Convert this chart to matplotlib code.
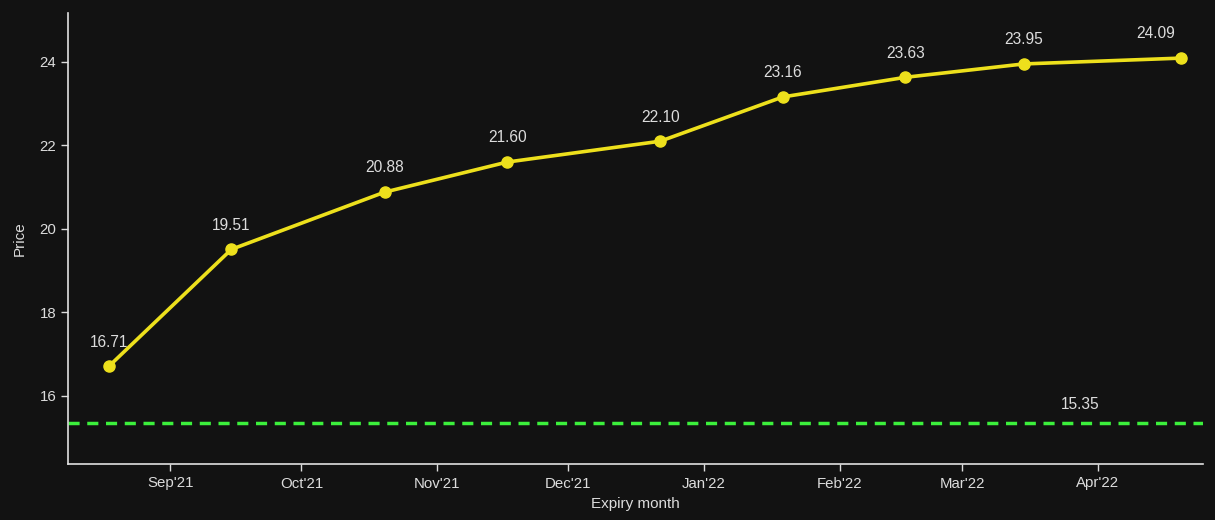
import matplotlib
matplotlib.use("Agg")
import matplotlib.pyplot as plt
import matplotlib.dates as mdates
import pandas as pd

expiry_dates = ["2021-08-18", "2021-09-15", "2021-10-20", "2021-11-17", "2021-12-22",
                "2022-01-19", "2022-02-16", "2022-03-15", "2022-04-20"]
prices = [16.71, 19.51, 20.88, 21.60, 22.10, 23.16, 23.63, 23.95, 24.09]
spot_price = 15.35
tick_months = ["2021-09-01", "2021-10-01", "2021-11-01", "2021-12-01",
               "2022-01-01", "2022-02-01", "2022-03-01", "2022-04-01"]
tick_labels = ["Sep'21", "Oct'21", "Nov'21", "Dec'21", "Jan'22", "Feb'22", "Mar'22", "Apr'22"]

plt.rcParams['font.family'] = ['Liberation Sans', 'DejaVu Sans']
bg = "#121212"
txt = "#dcdcdc"

x = pd.to_datetime(expiry_dates)
fig = plt.figure(figsize=(12.15, 5.2), dpi=100, facecolor=bg)
ax = fig.add_axes([68/1215, 1 - 464/520, (1203-68)/1215, (464-13)/520])
ax.set_facecolor(bg)

ax.plot(x, prices, color="#ede01c", lw=2.6, marker="o", ms=8, zorder=3)
n = len(prices)
for i, (xi, yi) in enumerate(zip(x, prices)):
    dx = -18 if i == n - 1 else 0
    ax.annotate(f"{yi:.2f}", (xi, yi), xytext=(dx, 12), textcoords="offset points",
                ha="center", va="bottom", color=txt, fontsize=11.2)

ax.axhline(spot_price, color="#3cf03c", lw=2.5, ls=(0, (3.2, 2.2)), zorder=2)
ax.annotate(f"{spot_price:.2f}", (pd.Timestamp("2022-04-01"), spot_price),
            xytext=(-13, 8), textcoords="offset points", ha="center", va="bottom",
            color=txt, fontsize=11.2)

ax.set_xlim(pd.Timestamp("2021-08-08 16:00"), pd.Timestamp("2022-04-25"))
ax.set_ylim(14.37, 25.17)
ax.set_yticks([16, 18, 20, 22, 24])
ax.set_xticks(pd.to_datetime(tick_months))
ax.set_xticklabels(tick_labels)

for s in ["top", "right"]:
    ax.spines[s].set_visible(False)
for s in ["left", "bottom"]:
    ax.spines[s].set_color("#e0e0e0")
    ax.spines[s].set_linewidth(1.2)
ax.tick_params(colors=txt, labelsize=10.8, length=5, width=1)
ax.tick_params(axis="x", pad=4)

ax.set_xlabel("Expiry month", color=txt, fontsize=11, labelpad=5)
ax.set_ylabel("Price", color=txt, fontsize=11, labelpad=9)

fig.savefig("out.png", dpi=100, facecolor=bg)
